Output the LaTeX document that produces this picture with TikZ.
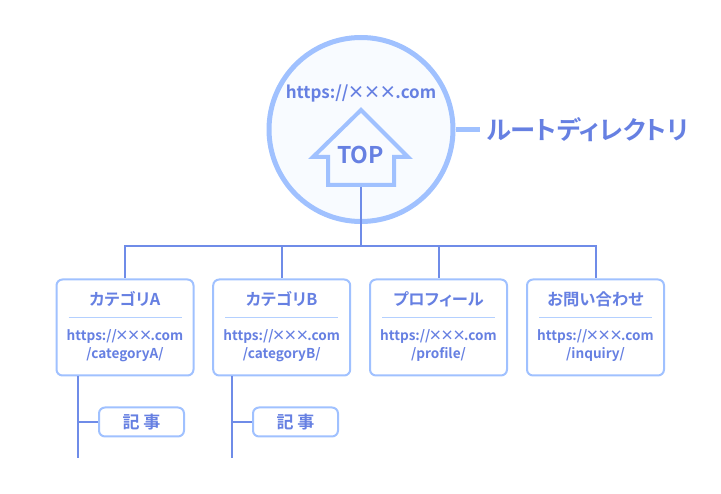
\documentclass[tikz,border=0pt]{standalone}
\usepackage{fontspec}
\setmainfont{Noto Sans CJK JP}[BoldFont={Noto Sans CJK JP Bold},RawFeature=+palt]
\definecolor{pale}{HTML}{A0C1FF}
\definecolor{wire}{HTML}{6F8CE8}
\definecolor{ink}{HTML}{6680E2}
\definecolor{wash}{HTML}{F8FBFF}
\definecolor{hairline}{HTML}{B4D0FF}
\newcommand{\crosses}[1]{\kern#1em×\kern#1em×\kern#1em×\kern#1em}
\begin{document}
\begin{tikzpicture}[x=1pt,y=-1pt,font=\bfseries,text=ink]
	\def \hub{246}
	\def \boxrow{327.5}
	\def \subrow{422}

	\tikzstyle{root-node}=[circle,draw=pale,fill=wash,line width=5pt,inner sep=0pt,minimum size=184pt]
	\tikzstyle{page-node}=[rectangle,rounded corners=6pt,draw=pale,fill=white,line width=2pt,inner sep=0pt,minimum width=137pt,minimum height=96pt]
	\tikzstyle{post-node}=[rectangle,rounded corners=6pt,draw=pale,fill=white,line width=2pt,inner sep=0pt,minimum width=85pt,minimum height=29pt,font=\bfseries\fontsize{17}{20}\selectfont]
	\tikzstyle{title}=[font=\bfseries\fontsize{16.3}{18}\selectfont,inner sep=0pt]
	\tikzstyle{url}=[font=\bfseries\fontsize{13.6}{18}\selectfont,inner sep=0pt,align=center]
	\tikzstyle{wire-line}=[draw=wire,line width=2pt]
	\tikzstyle{divider}=[draw=hairline,line width=1pt]

	\useasboundingbox (0,0) rectangle (721,494);

	% root
	\node[root-node] (root) at (361,129.5) {};
	\draw[draw=pale,line width=4pt,miter limit=10,fill=wash]
		(361,110) -- (408,157) -- (394,157) -- (394,185) -- (328,185) -- (328,157) -- (313,157) -- cycle;
	\node[inner sep=0pt,font=\bfseries\fontsize{17}{20}\selectfont] (root-url) at (361,93) {https://\crosses{-0.06}.com};
	\node[inner sep=0pt,font=\bfseries\fontsize{23}{26}\selectfont] (top) at (360.5,155) {TOP};
	\coordinate (house-foot) at (361,187);

	\node[inner sep=0pt,font=\bfseries\fontsize{25.3}{28}\selectfont] (root-name) at (587.5,130) {ルートディレクトリ};
	\coordinate (name-tail) at (480,129.5);
	\draw[draw=pale,line width=5pt] (root.east) -- (name-tail);

	% pages
	\node[page-node] (p0) at (125,\boxrow) {};
	\node[page-node] (p1) at (281.7,\boxrow) {};
	\node[page-node] (p2) at (438.5,\boxrow) {};
	\node[page-node] (p3) at (595.5,\boxrow) {};

	\node[title] (t0) at (125,299) {カテゴリA};
	\node[title] (t1) at (281.7,299) {カテゴリB};
	\node[title] (t2) at (438.5,299) {プロフィール};
	\node[title] (t3) at (595.5,299) {お問い合わせ};

	\node[url] (u0) at (125,345.5) {https://\crosses{-0.13}.com\\[0pt]/categoryA/};
	\node[url] (u1) at (281.7,345.5) {https://\crosses{-0.13}.com\\[0pt]/categoryB/};
	\node[url] (u2) at (438.5,345.5) {https://\crosses{-0.13}.com\\[0pt]/profile/};
	\node[url] (u3) at (595.5,345.5) {https://\crosses{-0.13}.com\\[0pt]/inquiry/};

	\foreach \i/\x in {0/125,1/281.7,2/438.5,3/595.5}
		\draw[divider] (\x-56.5,317.5) -- (\x+56.5,317.5);

	% tree
	\coordinate (j0) at (p0.north |- 0,\hub);
	\coordinate (j1) at (p1.north |- 0,\hub);
	\coordinate (j2) at (root.south |- 0,\hub);
	\coordinate (j3) at (p2.north |- 0,\hub);
	\coordinate (j4) at (p3.north |- 0,\hub);
	\draw[wire-line] (house-foot) -- (j2);
	\draw[wire-line,line cap=rect] (j0) -- (j4);
	\path[wire-line]
		(j0) edge (p0.north)
		(j1) edge (p1.north)
		(j3) edge (p2.north)
		(j4) edge (p3.north);

	% posts
	\node[post-node] (a0) at (141.5,\subrow) {記 事};
	\node[post-node] (a1) at (295.5,\subrow) {記 事};

	\coordinate (s0) at (78,376.5);
	\coordinate (s1) at (232,376.5);
	\coordinate (e0) at (78,458);
	\coordinate (e1) at (232,458);
	\coordinate (b0) at (78,\subrow);
	\coordinate (b1) at (232,\subrow);
	\path[wire-line,line width=2.5pt]
		(s0) edge (e0)
		(s1) edge (e1);
	\path[wire-line]
		(b0) edge (a0)
		(b1) edge (a1);
\end{tikzpicture}
\end{document}
